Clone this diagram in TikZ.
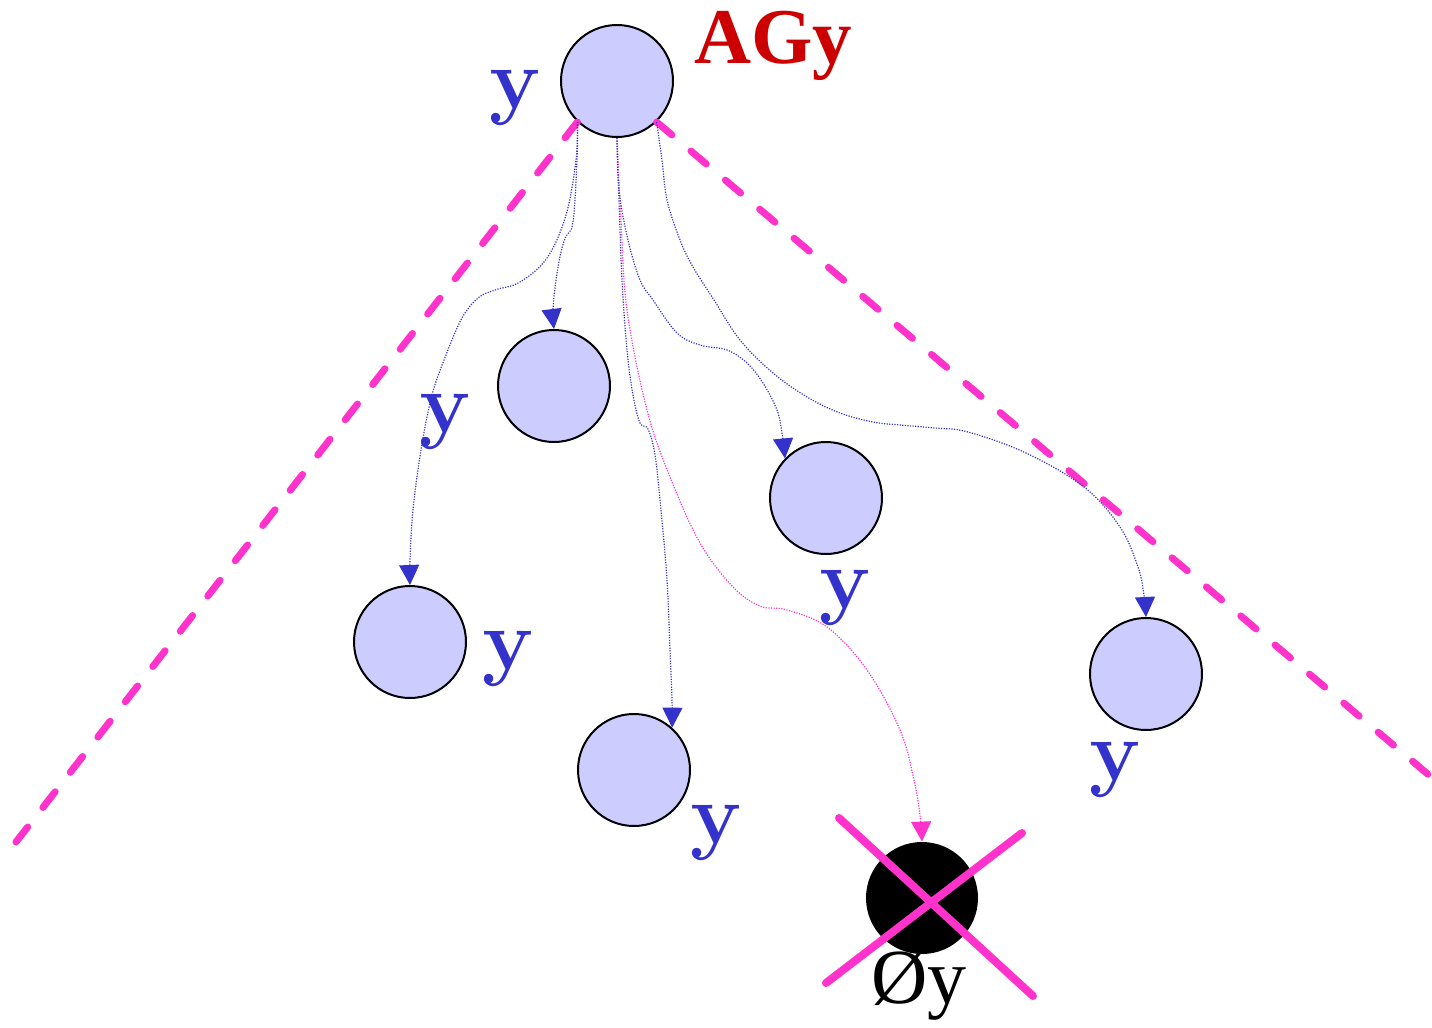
\documentclass[tikz,border=0pt]{standalone}
\usepackage{fontspec}
\newfontfamily\libserif{Liberation Serif}
\usetikzlibrary{arrows.meta}
\definecolor{nodefill}{HTML}{CCCCFF}
\definecolor{edgeblue}{HTML}{3333CC}
\definecolor{pinkx}{HTML}{FF33CC}
\definecolor{redlab}{HTML}{CC0000}
\begin{document}
\begin{tikzpicture}[x=0.5pt,y=-0.5pt,
  circ/.style={circle,draw=black,line width=1pt,fill=nodefill,minimum size=56pt,inner sep=0pt},
  deadnode/.style={circle,fill=black,minimum size=56pt,inner sep=0pt},
  ylab/.style={text=edgeblue,font=\fontsize{43}{43}\selectfont\bfseries,inner sep=0pt},
  edgeb/.style={draw=edgeblue,line width=0.6pt,dash pattern=on 0.6pt off 0.7pt,
    -{Triangle[length=10pt,width=10pt,fill=edgeblue]}},
  edgep/.style={draw=pinkx,line width=0.6pt,dash pattern=on 0.6pt off 0.7pt,
    -{Triangle[length=10pt,width=10pt,fill=pinkx]}},
  bound/.style={draw=pinkx,line width=3.5pt,line cap=round},
  xline/.style={draw=pinkx,line width=4pt,line cap=round}]
\path[use as bounding box] (0,0) rectangle (1432,1028);

% nodes
\node[circ] (A) at (617,81) {};
\node[circ] (B) at (554,386) {};
\node[circ] (C) at (410,642) {};
\node[circ] (D) at (826,498) {};
\node[circ] (E) at (634,770) {};
\node[circ] (F) at (1146,674) {};
\node[deadnode] (G) at (922,898) {};

% boundary coordinates
\coordinate (lend) at (16,842);
\coordinate (rend) at (1430,776);
\draw[bound,dash pattern=on 10pt off 12.35pt] (A.226) -- (lend);
\draw[bound,dash pattern=on 10pt off 12.5pt] (A.-46) -- (rend);

% edges
\draw[edgeb] plot[smooth,tension=0.6] coordinates {(A.226) (576,160) (566,215) (547,258) (520,282) (495,290) (478,298) (462,318) (446,355) (432,395) (421,450) (413,510) (410,560) (C.north)};
\draw[edgeb] plot[smooth,tension=0.6] coordinates {(A.226) (577,160) (573,222) (566,236) (561,252) (556,280) (553,310) (B.north)};
\draw[edgeb] plot[smooth,tension=0.6] coordinates {(A.south) (619,200) (622,280) (627,350) (633,395) (640,423) (648,429) (655,455) (661,510) (667,580) (670,650) (672,700) (E.48)};
\draw[edgep] plot[smooth,tension=0.6] coordinates {(A.south) (621,220) (627,310) (647,410) (670,477) (700,543) (733,587) (760,606) (787,610) (827,627) (867,670) (900,730) (914,780) (920,815) (G.north)};
\draw[edgeb] plot[smooth,tension=0.6] coordinates {(A.south) (619,190) (628,240) (640,280) (653,300) (677,333) (700,345) (727,350) (747,363) (763,383) (777,410) (782,433) (D.136)};
\draw[edgeb] plot[smooth,tension=0.6] coordinates {(A.-46) (662,160) (667,200) (680,240) (693,267) (714,300) (740,340) (773,373) (807,397) (840,413) (873,422) (900,425) (935,428) (968,432) (1026,453) (1084,487) (1120,527) (1138,567) (1144,595) (F.north)};

% cross over dead node
\coordinate (x1a) at (839,818);
\coordinate (x1b) at (1033,996);
\coordinate (x2a) at (1022,833);
\coordinate (x2b) at (826,983);
\draw[xline] (x1a) -- (x1b);
\draw[xline] (x2a) -- (x2b);

% labels
\node[ylab] (lA) at (515,98) {y};
\node[ylab] (lB) at (445,422) {y};
\node[ylab] (lC) at (508,659) {y};
\node[ylab] (lD) at (845,598) {y};
\node[ylab] (lE) at (716,833) {y};
\node[ylab] (lF) at (1115,770) {y};
\node[text=redlab,font=\libserif\fontsize{39.5}{39.5}\selectfont\bfseries,inner sep=0pt,anchor=base] (tA) at (773,63) {AGy};
\node[text=black,font=\libserif\fontsize{39}{39}\selectfont,inner sep=0pt,anchor=base] (tG) at (919,1003) {Øy};
\end{tikzpicture}
\end{document}
